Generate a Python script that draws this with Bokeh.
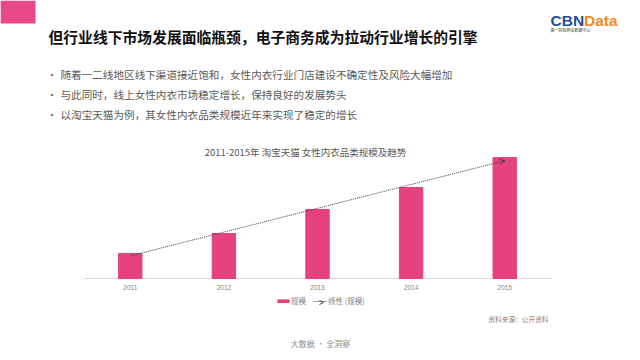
from bokeh.plotting import figure
from bokeh.models import Label, Legend, LegendItem, Arrow, OpenHead, Range1d, FactorRange, BoxAnnotation
from bokeh.core.properties import value
from bokeh.embed import file_html
from bokeh.resources import INLINE
import numpy as np

# ---- data ----
years = ["2011", "2012", "2013", "2014", "2015"]
scale = [25, 45, 69, 91, 121]
legend_labels = ["规模", "线性 (规模)"]
headline = "但行业线下市场发展面临瓶颈，电子商务成为拉动行业增长的引擎"
bullets = [
    "随着一二线地区线下渠道接近饱和，女性内衣行业门店建设不确定性及风险大幅增加",
    "与此同时，线上女性内衣市场稳定增长，保持良好的发展势头",
    "以淘宝天猫为例，其女性内衣品类规模近年来实现了稳定的增长",
]
chart_title = "2011-2015年 淘宝天猫 女性内衣品类规模及趋势"
source_note = "资料来源：公开资料"
footer = "大数据 · 全洞察"

PINK = "#E5427F"
CJK = "Noto Sans CJK SC"
W, H = 640, 360
RB = 6                 # right border so the padded category range is symmetric
FB = 278               # canvas y of the chart baseline
cat_left, cat_right = 82.7, 550.8
cat_w = (cat_right - cat_left) / len(years)
pad_side = ((W - RB) - (cat_right - cat_left)) / 2 / cat_w

p = figure(width=W, height=H,
           x_range=FactorRange(*years, range_padding=pad_side, range_padding_units="absolute"),
           y_range=Range1d(-(H - FB), FB),
           output_backend="svg", toolbar_location=None,
           x_axis_location=None, y_axis_location=None,
           min_border_left=0, min_border_right=RB, min_border_top=0, min_border_bottom=0)
p.outline_line_color = None
p.grid.visible = False
p.background_fill_color = "white"
p.border_fill_color = "white"

# baseline + category labels
p.segment(x0=[0], y0=[0], x1=[len(years)], y1=[0], line_color="#D9D9D9", line_width=1)
p.text(x=years, y=[-9] * len(years), text=years, text_font=value("Liberation Sans"),
       text_font_size="6.5px", text_color="#7F7F7F", text_align="center", text_baseline="middle")

bars = p.vbar(x=years, top=scale, width=0.25, fill_color=PINK, line_color=PINK)

xi = np.arange(len(years))
coef = np.polyfit(xi, scale, 1)
trend = np.polyval(coef, xi)
tline = p.line(x=years, y=trend, line_dash="1 1", line_color="#404040", line_width=1)
p.add_layout(Arrow(end=OpenHead(size=5, line_color="#404040", line_width=1),
                   x_start=len(years) - 1.5, y_start=trend[-2], x_end=len(years) - 0.5, y_end=trend[-1],
                   line_alpha=0))

legend = Legend(items=[LegendItem(label=legend_labels[0], renderers=[bars]),
                       LegendItem(label=legend_labels[1], renderers=[tline])],
                orientation="horizontal", location=(276, H - 306),
                glyph_width=14, glyph_height=4, label_standoff=1, spacing=2, padding=0, margin=0,
                label_height=8, label_text_font_size="7.5px", label_text_color="#7F7F7F",
                label_text_font=CJK, border_line_color=None, background_fill_alpha=0)
p.add_layout(legend, "center")
p.add_layout(Arrow(end=OpenHead(size=4, line_color="#404040", line_width=1),
                   x_start=318, y_start=H - 302, x_end=323, y_end=H - 302,
                   start_units="screen", end_units="screen", line_alpha=0))


def lab(text, fx, fy, size, color, align="left", bold=False, font=CJK):
    p.add_layout(Label(x=fx, y=FB - fy, x_units="screen", y_units="data", text=text,
                       text_font=font, text_font_size=size, text_color=color, text_align=align,
                       text_baseline="middle", text_font_style="bold" if bold else "normal"))


p.add_layout(BoxAnnotation(left=0, right=35, left_units="screen", right_units="screen",
                           top=FB, bottom=FB - 23, fill_color="#E8478A", fill_alpha=1, line_color=None))
lab(headline, 48, 36, "14.8px", "#111111", bold=True)
for i, b in enumerate(bullets):
    lab("•", 50, 74 + 20 * i, "8px", "#595959", font="Liberation Sans")
    lab(b, 60, 74 + 20 * i, "10.6px", "#595959")
lab("CBN", 550, 20, "15.5px", "#1E4F91", bold=True, font="Liberation Sans")
lab("Data", 583.5, 20, "15.5px", "#F08A24", bold=True, font="Liberation Sans")
lab("第一财经商业数据中心", 550, 29.5, "4px", "#333333")
lab(chart_title, 305, 151, "9.5px", "#595959", align="center")
lab(source_note, 548, 318, "6.7px", "#7F7F7F", align="right")
lab(footer, 320, 343, "8px", "#8C8C8C", align="center")

open("out.html", "w").write(file_html(p, INLINE))
